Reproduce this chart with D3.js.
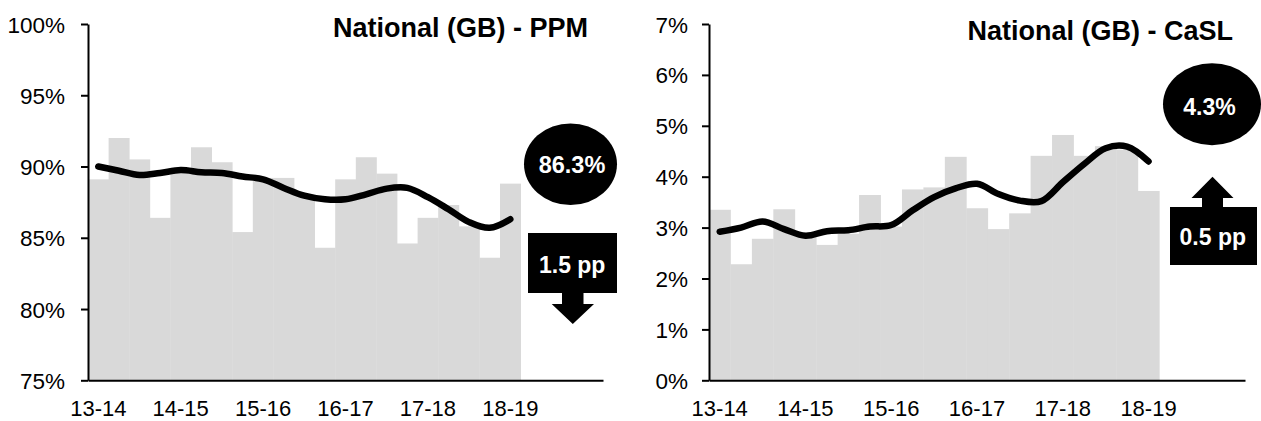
<!DOCTYPE html>
<html><head><meta charset="utf-8">
<script src="https://cdn.jsdelivr.net/npm/d3@7"></script>
<style>
html,body{margin:0;padding:0;background:#fff;}
svg{display:block;font-family:"Liberation Sans",Arial,sans-serif;}
</style></head>
<body>
<svg id="chart" width="1261" height="421"></svg>
<script>
// ---- data ----
const quarters = [
  "13-14 Q1","13-14 Q2","13-14 Q3","13-14 Q4",
  "14-15 Q1","14-15 Q2","14-15 Q3","14-15 Q4",
  "15-16 Q1","15-16 Q2","15-16 Q3","15-16 Q4",
  "16-17 Q1","16-17 Q2","16-17 Q3","16-17 Q4",
  "17-18 Q1","17-18 Q2","17-18 Q3","17-18 Q4",
  "18-19 Q1","18-19 Q2","18-19 Q3","18-19 Q4","19-20 Q1"
];
const tickQuarters = ["13-14 Q1","14-15 Q1","15-16 Q1","16-17 Q1","17-18 Q1","18-19 Q1"];
const tickLabels = ["13-14","14-15","15-16","16-17","17-18","18-19"];

const ppmQuarterly = [89.1, 92.0, 90.5, 86.4, 89.9, 91.35, 90.3, 85.4, 89.2, 89.2, 88.0,
                      84.3, 89.1, 90.65, 89.5, 84.6, 86.4, 87.3, 85.8, 83.6, 88.8];
const ppmMAA = [90.0, 89.7, 89.4, 89.55, 89.75, 89.6, 89.55, 89.3, 89.1, 88.5, 87.95,
                87.7, 87.7, 88.05, 88.45, 88.5, 87.85, 87.0, 86.1, 85.7, 86.3];
const caslQuarterly = [3.35, 2.28, 2.78, 3.36, 2.9, 2.66, 2.88, 3.64, 3.02, 3.75, 3.79,
                       4.39, 3.38, 2.97, 3.28, 4.41, 4.82, 4.41, 4.6, 4.53, 3.72];
const caslMAA = [2.92, 3.0, 3.12, 2.97, 2.84, 2.93, 2.95, 3.02, 3.05, 3.34, 3.6,
                 3.77, 3.86, 3.66, 3.53, 3.52, 3.89, 4.25, 4.56, 4.59, 4.3];

const ppmTicks = [75, 80, 85, 90, 95, 100];
const caslTicks = [0, 1, 2, 3, 4, 5, 6, 7];

const panels = [
  {title:"National (GB) - PPM", bars:ppmQuarterly, line:ppmMAA, domain:[75,100], ticks:ppmTicks,
   x0:88, x1:603, labelX:65, titleX:588, titleY:37,
   bubble:"86.3%", change:"1.5 pp", dir:"down"},
  {title:"National (GB) - CaSL", bars:caslQuarterly, line:caslMAA, domain:[0,7], ticks:caslTicks,
   x0:709, x1:1245, labelX:688, titleX:1233, titleY:40,
   bubble:"4.3%", change:"0.5 pp", dir:"up"}
];

const svg = d3.select("#chart");
const yTop = 24, yBot = 380.3;

panels.forEach(p => {
  const g = svg.append("g");
  const x = d3.scaleBand().domain(quarters).range([p.x0, p.x1]).padding(0);
  const y = d3.scaleLinear().domain(p.domain).range([yBot, yTop]);

  // bars
  g.selectAll("rect.bar").data(p.bars).join("rect")
    .attr("class","bar")
    .attr("x",(d,i)=>x(quarters[i]))
    .attr("width", x.bandwidth()+0.4)
    .attr("y", d=>y(d))
    .attr("height", d=>yBot - y(d))
    .attr("fill","#d9d9d9");

  // line
  const line = d3.line()
    .x((d,i)=>x(quarters[i]) + x.bandwidth()/2)
    .y(d=>y(d))
    .curve(d3.curveCatmullRom.alpha(0.5));
  g.append("path").datum(p.line)
    .attr("d", line)
    .attr("fill","none").attr("stroke","#000")
    .attr("stroke-width",6.5)
    .attr("stroke-linecap","round").attr("stroke-linejoin","round");

  // y axis
  const yAxis = d3.axisLeft(y).tickValues(p.ticks).tickSize(7).tickSizeOuter(0)
    .tickFormat(d=>d+"%");
  const ya = g.append("g").attr("transform",`translate(${p.x0},0)`).call(yAxis);
  ya.select(".domain").attr("stroke","#000").attr("stroke-width",2);
  ya.selectAll(".tick line").attr("stroke","#000").attr("stroke-width",2);
  ya.selectAll(".tick text")
    .attr("x", p.labelX - p.x0).attr("dy", null).attr("y", 8)
    .attr("font-size","22.5px").attr("fill","#000")
    .attr("font-family","'Liberation Sans',Arial,sans-serif");

  // x axis
  const xAxis = d3.axisBottom(x).tickValues(tickQuarters).tickSize(0).tickSizeOuter(0)
    .tickFormat(d=>tickLabels[tickQuarters.indexOf(d)]);
  const xa = g.append("g").attr("transform",`translate(0,${yBot})`).call(xAxis);
  xa.select(".domain").attr("stroke","#000").attr("stroke-width",2);
  xa.selectAll(".tick text")
    .attr("dy", null).attr("y", 36)
    .attr("font-size","22px").attr("fill","#000")
    .attr("font-family","'Liberation Sans',Arial,sans-serif");

  // title
  g.append("text").attr("x",p.titleX).attr("y",p.titleY)
    .attr("text-anchor","end").attr("font-weight","bold")
    .attr("font-size","27px").attr("fill","#000").text(p.title);
});

// ---- annotations ----
const ann = svg.append("g");
// PPM bubble
ann.append("ellipse").attr("cx",570.5).attr("cy",164.2).attr("rx",46.5).attr("ry",40.8).attr("fill","#000");
ann.append("text").attr("x",572).attr("y",173.3).attr("text-anchor","middle")
  .attr("font-weight","bold").attr("font-size","23.5px").attr("fill","#fff").text(panels[0].bubble);
// PPM down arrow
ann.append("path").attr("fill","#000")
  .attr("d","M528,233 H617 V293 H583.5 V304 H594 L572.8,324 L551.7,304 H562 V293 H528 Z");
ann.append("text").attr("x",572.2).attr("y",272.7).attr("text-anchor","middle")
  .attr("font-weight","bold").attr("font-size","23px").attr("fill","#fff").text(panels[0].change);

// CaSL bubble
ann.append("ellipse").attr("cx",1212).attr("cy",104.2).attr("rx",49).attr("ry",41).attr("fill","#000");
ann.append("text").attr("x",1209.5).attr("y",115).attr("text-anchor","middle")
  .attr("font-weight","bold").attr("font-size","23px").attr("fill","#fff").text(panels[1].bubble);
// CaSL up arrow
ann.append("path").attr("fill","#000")
  .attr("d","M1170,207 H1202 V198 H1191.5 L1212.5,176.7 L1233.5,198 H1223 V207 H1257 V265 H1170 Z");
ann.append("text").attr("x",1212.8).attr("y",245).attr("text-anchor","middle")
  .attr("font-weight","bold").attr("font-size","23px").attr("fill","#fff").text(panels[1].change);
</script>
</body></html>
